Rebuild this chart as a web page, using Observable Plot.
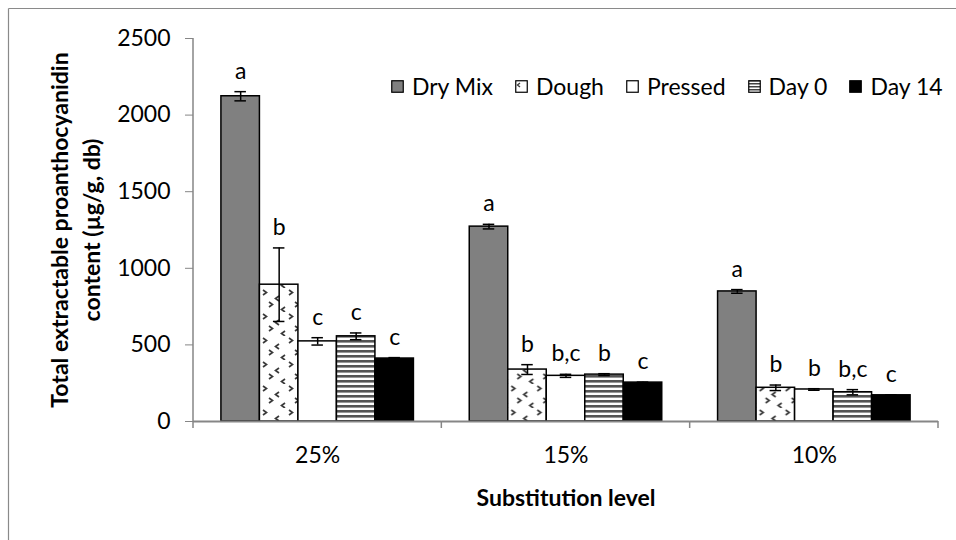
<!DOCTYPE html>
<html>
<head>
<meta charset="utf-8">
<script src="https://cdn.jsdelivr.net/npm/d3@7"></script>
<script src="https://cdn.jsdelivr.net/npm/@observablehq/plot@0.6"></script>
<style>
  body { margin: 0; background: #fff; font-family: Lato, "Liberation Sans", sans-serif; }
  #wrap { position: relative; width: 956px; height: 540px; overflow: hidden; background: #fff; }
  #legend { position: absolute; left: 391px; top: 72px; display: flex; align-items: center; font-size: 23px; color: #000; white-space: nowrap; line-height: 28px; }
  .item { display: flex; align-items: center; margin-right: 22px; }
  .item svg { margin-right: 8px; display: block; }
</style>
</head>
<body>
<svg width="0" height="0" style="position:absolute">
  <defs>
    <pattern id="doughPat" patternUnits="userSpaceOnUse" width="26" height="24">
      <rect width="26" height="24" fill="#fff"/>
      <path d="M3,2 l3.5,2.5 l-3.5,2.5" fill="none" stroke="#3a3a3a" stroke-width="1.7"/>
      <path d="M19,8 l-3.5,2.5 l3.5,2.5" fill="none" stroke="#3a3a3a" stroke-width="1.7"/>
      <path d="M9,14 l3.5,2.5 l-3.5,2.5" fill="none" stroke="#3a3a3a" stroke-width="1.7"/>
      <path d="M25,19 l-3.5,2.5 l3.5,2.5" fill="none" stroke="#3a3a3a" stroke-width="1.7"/>
    </pattern>
    <pattern id="doughSw" patternUnits="userSpaceOnUse" width="12" height="12">
      <rect width="12" height="12" fill="#fff"/>
      <path d="M5,3 l-2.5,2 l2.5,2" fill="none" stroke="#3a3a3a" stroke-width="1.4"/>
    </pattern>
    <pattern id="stripePat" patternUnits="userSpaceOnUse" width="8" height="5">
      <rect width="8" height="5" fill="#fff"/>
      <rect width="8" height="2.6" fill="#555"/>
    </pattern>
    <pattern id="stripeSw" patternUnits="userSpaceOnUse" width="8" height="3">
      <rect width="8" height="3" fill="#fff"/>
      <rect width="8" height="1.5" fill="#444"/>
    </pattern>
  </defs>
</svg>
<div id="wrap"><div id="legend"></div></div>
<script>
// ---- data ----
const levels = ["25%", "15%", "10%"];
const series = ["Dry Mix", "Dough", "Pressed", "Day 0", "Day 14"];

const dryMix     = [2123, 1272, 849];
const dryMixErr  = [30, 15, 12];
const dryMixSig  = ["a", "a", "a"];

const dough      = [893, 339, 220];
const doughErr   = [240, 32, 18];
const doughSig   = ["b", "b", "b"];

const pressed    = [523, 298, 209];
const pressedErr = [24, 10, 5];
const pressedSig = ["c", "b,c", "b"];

const day0       = [556, 306, 191];
const day0Err    = [22, 6, 17];
const day0Sig    = ["c", "b", "b,c"];

const day14      = [411, 254, 171];
const day14Err   = [6, 3, 3];
const day14Sig   = ["c", "c", "c"];

const yTicks = [0, 500, 1000, 1500, 2000, 2500];
const xTitle = "Substitution level";
const yTitle1 = "Total extractable proanthocyanidin";
const yTitle2 = "content (µg/g, db)";

// ---- styles (kept separate from data) ----
const fills = ["#808080", "url(#doughPat)", "#ffffff", "url(#stripePat)", "#000000"];
const swatchFills = ["#808080", "url(#doughSw)", "#ffffff", "url(#stripeSw)", "#000000"];

const table = [
  [dryMix, dryMixErr, dryMixSig],
  [dough, doughErr, doughSig],
  [pressed, pressedErr, pressedSig],
  [day0, day0Err, day0Sig],
  [day14, day14Err, day14Sig]
];
const rows = [];
levels.forEach((lv, i) => {
  series.forEach((s, j) => {
    const [v, e, g] = table[j];
    rows.push({level: lv, series: s, value: v[i], lo: v[i] - e[i], hi: v[i] + e[i], sig: g[i]});
  });
});

const chart = Plot.plot({
  width: 956,
  height: 540,
  marginLeft: 193,
  marginRight: 18,
  marginTop: 38,
  marginBottom: 119,
  style: {fontFamily: "Lato, 'Liberation Sans', sans-serif", fontSize: "23px", color: "#000", background: "transparent", overflow: "visible"},
  fx: {domain: levels, padding: 0, round: false},
  x: {domain: series, paddingInner: 0, paddingOuter: 0.725, round: false, axis: null},
  y: {domain: [0, 2500], label: null},
  color: {domain: series, range: fills},
  marks: [
    Plot.axisY({ticks: yTicks, tickSize: 8, tickPadding: 15, stroke: "#868686", tickFormat: d3.format("d"),
      label: yTitle1, labelAnchor: "center", labelOffset: 142, labelArrow: "none", fontSize: 23}),
    Plot.axisY({ticks: [], tickSize: 0, label: yTitle2, labelAnchor: "center", labelOffset: 110, labelArrow: "none", fontSize: 23}),
    Plot.axisFx({anchor: "bottom", tickSize: 0, tickPadding: 25, label: xTitle, labelAnchor: "center", labelOffset: 84, labelArrow: "none", fontSize: 23}),
    Plot.barY(rows, {fx: "level", x: "series", y: "value", fill: "series", stroke: "#000", strokeWidth: 1.5}),
    Plot.ruleY([0], {stroke: "#868686", strokeWidth: 2}),
    Plot.ruleX(rows, {fx: "level", x: "series", y1: "lo", y2: "hi", stroke: "#000", strokeWidth: 1.5}),
    Plot.tickY(rows, {fx: "level", x: "series", y: "hi", insetLeft: 13.5, insetRight: 13.5, stroke: "#000", strokeWidth: 1.5}),
    Plot.tickY(rows, {fx: "level", x: "series", y: "lo", insetLeft: 13.5, insetRight: 13.5, stroke: "#000", strokeWidth: 1.5}),
    Plot.text(rows, {fx: "level", x: "series", y: "hi", text: "sig", lineAnchor: "bottom", dy: -13, fontSize: 23, fill: "#000"})
  ]
});

document.getElementById("wrap").prepend(chart);
chart.style.position = "absolute";
chart.style.left = "0";
chart.style.top = "0";

// bold axis titles; strip any arrow glyphs
const svg = d3.select(chart);
svg.selectAll('g[aria-label="y-axis label"] text, g[aria-label="fx-axis label"] text')
  .attr("font-weight", "bold")
  .each(function() {
    const t = d3.select(this);
    if (t.select("tspan").empty()) t.text(t.text().replace(/\s*[↑→←↓]\s*/g, ""));
    else t.selectAll("tspan").each(function() { const s = d3.select(this); s.text(s.text().replace(/\s*[↑→←↓]\s*/g, "")); });
  });

// axis lines and category boundary ticks derived from the plot's scales
const fx = chart.scale("fx");
const ys = chart.scale("y");
const y0 = ys.apply(0), yTop = ys.apply(2500);
const left = fx.apply(levels[0]);
const edges = levels.map(l => fx.apply(l)).concat([fx.apply(levels[levels.length - 1]) + fx.bandwidth]);
const deco = svg.append("g").attr("stroke", "#868686").attr("stroke-width", 1.5);
deco.append("line").attr("x1", left).attr("x2", left).attr("y1", yTop).attr("y2", y0);
edges.forEach(x => deco.append("line").attr("x1", x).attr("x2", x).attr("y1", y0).attr("y2", y0 + 7));
// chart-area border (top and left visible)
const border = svg.append("g").attr("stroke", "#8a8a8a").attr("stroke-width", 1.2);
border.append("line").attr("x1", 8.5).attr("x2", 956).attr("y1", 8.5).attr("y2", 8.5);
border.append("line").attr("x1", 8.5).attr("x2", 8.5).attr("y1", 8.5).attr("y2", 540);

// legend
const legend = d3.select("#legend");
series.forEach((s, i) => {
  const it = legend.append("div").attr("class", "item");
  const sw = it.append("svg").attr("width", 13).attr("height", 13);
  sw.append("rect").attr("x", 0.75).attr("y", 0.75).attr("width", 11.5).attr("height", 11.5)
    .attr("fill", swatchFills[i]).attr("stroke", "#000").attr("stroke-width", 1.2);
  it.append("span").text(s);
});
</script>
</body>
</html>
